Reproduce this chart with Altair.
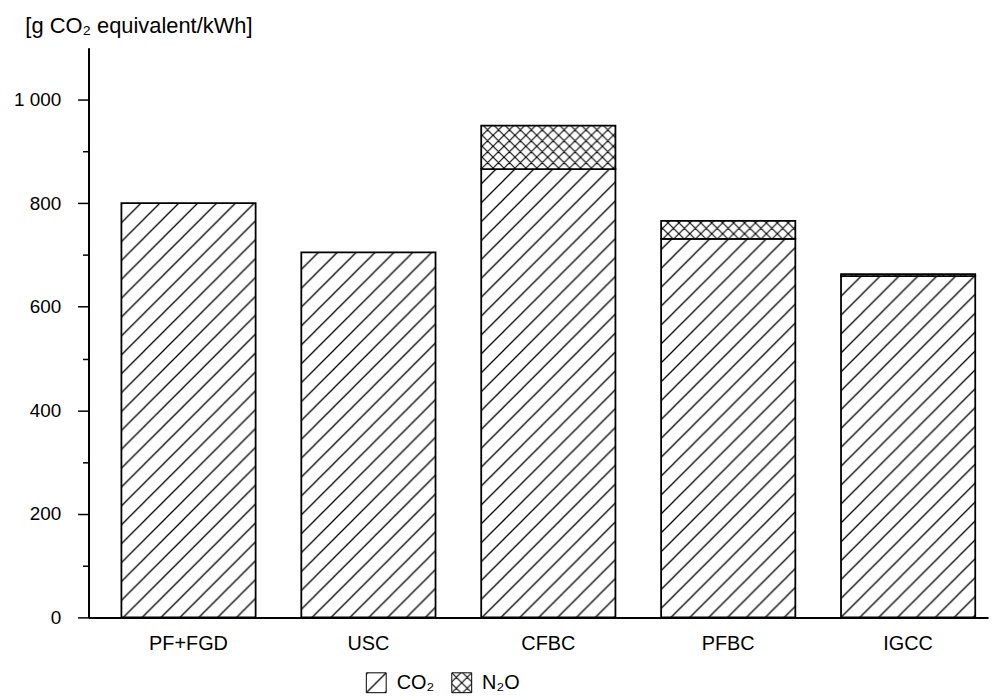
import altair as alt
import pandas as pd
import jinja2

# ---- data ----
categories = ["PF+FGD", "USC", "CFBC", "PFBC", "IGCC"]
co2_values = [800, 705, 866, 731, 659]
n2o_values = [0, 0, 84, 35, 4]
gases = ["CO₂", "N₂O"]
y_ticks = list(range(0, 1001, 100))

rows = []
for c, a, b in zip(categories, co2_values, n2o_values):
    rows.append({"cat": c, "gas": gases[0], "val": a, "ord": 0})
    if b > 0:
        rows.append({"cat": c, "gas": gases[1], "val": b, "ord": 1})
df = pd.DataFrame(rows)

FONT = "Liberation Sans"

chart = alt.Chart(df).mark_bar(stroke="black", strokeWidth=1.8).encode(
    x=alt.X(
        "cat:N",
        sort=categories,
        scale=alt.Scale(paddingInner=0.254, paddingOuter=0.127, align=0.72),
        axis=alt.Axis(
            title=None, labelAngle=0, ticks=False, labelPadding=16,
            domainWidth=2, domainColor="black", labelFontSize=20,
            labelColor="black", labelFont=FONT,
        ),
    ),
    y=alt.Y(
        "val:Q",
        stack="zero",
        scale=alt.Scale(domain=[0, 1100], nice=False),
        axis=alt.Axis(
            title=None, values=y_ticks, grid=False,
            labelExpr="datum.value % 200 ? '' : replace(format(datum.value, ','), ',', ' ')",
            tickSize={"condition": {"test": "datum.value % 200 === 0", "value": 11}, "value": 6},
            tickColor="black", tickWidth=1.5, domainWidth=2, domainColor="black",
            labelPadding=17, labelFontSize=19, labelColor="black", labelFont=FONT,
        ),
    ),
    color=alt.Color(
        "gas:N",
        scale=alt.Scale(domain=gases, range=["url(#hatchco2)", "url(#hatchn2o)"]),
        legend=alt.Legend(
            title=None, orient="none", direction="horizontal",
            legendX=279, legendY=628, padding=0,
            symbolType="square", symbolSize=400, symbolStrokeColor="black",
            symbolStrokeWidth=1, labelFontSize=20, labelColor="black",
            labelFont=FONT, columnPadding=15, labelOffset=10,
        ),
    ),
    order=alt.Order("ord:Q"),
).properties(
    width=905,
    height=573,
    title=alt.TitleParams(
        "[g CO₂ equivalent/kWh]", anchor="start", frame="bounds", fontSize=22,
        font=FONT, fontWeight="normal", color="black", dx=12, offset=10,
    ),
).configure(font=FONT).configure_view(stroke=None, strokeWidth=0)

TEMPLATE = jinja2.Template("""<!DOCTYPE html>
<html>
<head>
<meta charset="utf-8">
<style>
  #{{ output_div }}.vega-embed { width: 100%; display: flex; }
</style>
<script type="text/javascript" src="{{ base_url }}/vega@{{ vega_version }}"></script>
<script type="text/javascript" src="{{ base_url }}/vega-lite@{{ vegalite_version }}"></script>
<script type="text/javascript" src="{{ base_url }}/vega-embed@{{ vegaembed_version }}"></script>
</head>
<body>
<svg width="0" height="0" style="position:absolute;left:0;top:0" aria-hidden="true">
  <defs>
    <pattern id="hatchco2" patternUnits="userSpaceOnUse" width="19" height="19">
      <rect width="19" height="19" fill="white"/>
      <path d="M0,19 L19,0 M-4,4 L4,-4 M15,23 L23,15" stroke="black" stroke-width="1.3"/>
    </pattern>
    <pattern id="hatchn2o" patternUnits="userSpaceOnUse" width="11" height="11">
      <rect width="11" height="11" fill="white"/>
      <path d="M0,11 L11,0 M-3,3 L3,-3 M8,14 L14,8 M0,0 L11,11 M-3,8 L3,14 M8,-3 L14,3" stroke="black" stroke-width="1.1"/>
    </pattern>
  </defs>
</svg>
<div id="{{ output_div }}"></div>
<script type="text/javascript">
  vegaEmbed("#{{ output_div }}", {{ spec }}, {{ embed_options }}).catch(function(err) {
    document.getElementById("{{ output_div }}").innerHTML = "<pre>" + err + "</pre>";
  });
</script>
</body>
</html>""")

chart.save("out.html", embed_options={"renderer": "svg", "actions": False}, template=TEMPLATE)
